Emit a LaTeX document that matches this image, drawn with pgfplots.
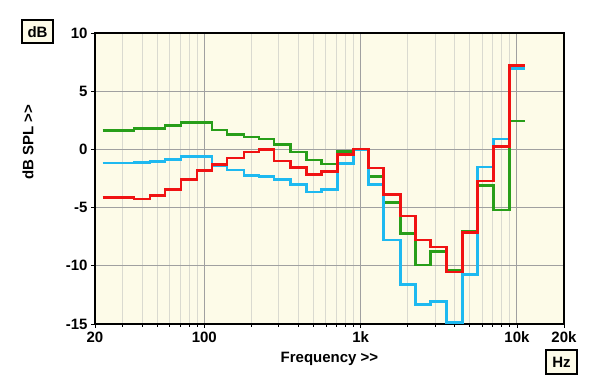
\documentclass[border=0pt]{standalone}
\usepackage{fontspec}
\setmainfont{Liberation Sans}
\usepackage{pgfplots}
\usepackage{pgfplotstable}
\pgfplotsset{compat=1.18}
\definecolor{cream}{RGB}{253,251,232}
\definecolor{cgreen}{RGB}{40,158,25}
\definecolor{cblue}{RGB}{30,185,240}
\definecolor{cred}{RGB}{240,18,18}
\definecolor{gmaj}{RGB}{160,160,160}
\definecolor{gmin}{RGB}{218,218,208}
\pgfplotstableread{
f g b r
22.4 1.63 -1.18 -4.15
28 1.63 -1.18 -4.15
35.5 1.80 -1.12 -4.27
45 1.80 -1.04 -3.97
56 2.07 -0.87 -3.47
71 2.30 -0.62 -2.58
90 2.30 -0.62 -1.82
112 1.65 -1.40 -1.30
140 1.30 -1.78 -0.75
180 1.08 -2.24 -0.23
224 0.90 -2.35 -0.03
280 0.43 -2.61 -1.00
355 -0.23 -3.00 -1.58
450 -0.92 -3.65 -2.15
560 -1.25 -3.45 -1.90
710 -0.20 -1.22 -0.42
900 0.00 0.00 0.02
1120 -2.33 -3.04 -1.61
1400 -4.56 -7.77 -3.85
1800 -7.20 -11.60 -5.71
2240 -9.92 -13.33 -7.80
2800 -8.78 -13.08 -8.40
3550 -10.35 -14.86 -10.52
4500 -7.06 -10.75 -7.15
5600 -3.12 -1.50 -2.70
7100 -5.19 0.90 0.25
9000 2.43 6.93 7.19
11200 2.43 6.93 7.19
}\data
\newcommand{\lab}{\fontsize{15}{17}\selectfont\bfseries}
\begin{document}
\begin{tikzpicture}
\path[use as bounding box] (-95pt,-63pt) rectangle (505pt,324pt);
\begin{axis}[
 at={(0,0)}, anchor=south west,
 scale only axis, width=469pt, height=291pt,
 xmode=log, xmin=20, xmax=20000, ymin=-15, ymax=10,
 xtick={20,100,1000,10000,20000}, xticklabels={20,100,1k,10k,20k},
 minor xtick={30,40,50,60,70,80,90,200,300,400,500,600,700,800,900,2000,3000,4000,5000,6000,7000,8000,9000},
 ytick={-15,-10,-5,0,5,10}, yticklabels={-15,-10,-5,0,5,10},
 xtick pos=lower, ytick pos=left,
 tick align=outside, major tick length=4pt, minor tick length=3pt,
 tick style={black, line width=0.8pt},
 xmajorgrids, xminorgrids, ymajorgrids,
 major grid style={gmaj, line width=1pt},
 minor grid style={gmin, line width=1pt},
 axis background/.style={fill=cream},
 axis line style={line width=1.5pt},
 every tick label/.append style={font=\lab},
 xlabel={Frequency >{}>},
 every axis x label/.style={at={(axis description cs:0.5,-0.12)}, anchor=center, font=\lab},
 ylabel={dB SPL >{}>},
 every axis y label/.style={at={(axis description cs:-0.143,0.625)}, anchor=center, rotate=90, font=\lab},
]
\addplot[cgreen, line width=2.6pt, const plot mark left, mark=none] table[x=f,y=g]{\data};
\addplot[cblue, line width=2.6pt, const plot mark left, mark=none] table[x=f,y=b]{\data};
\addplot[cred, line width=2.6pt, const plot mark left, mark=none] table[x=f,y=r]{\data};
\end{axis}
\node[draw, line width=1.5pt, fill=cream, minimum width=31pt, minimum height=23pt, inner sep=0pt, font=\lab] at (-57.5pt,292.3pt) {dB};
\node[draw, line width=1.5pt, fill=cream, minimum width=31pt, minimum height=24pt, inner sep=0pt, font=\lab] at (466.5pt,-38pt) {Hz};
\end{tikzpicture}
\end{document}
